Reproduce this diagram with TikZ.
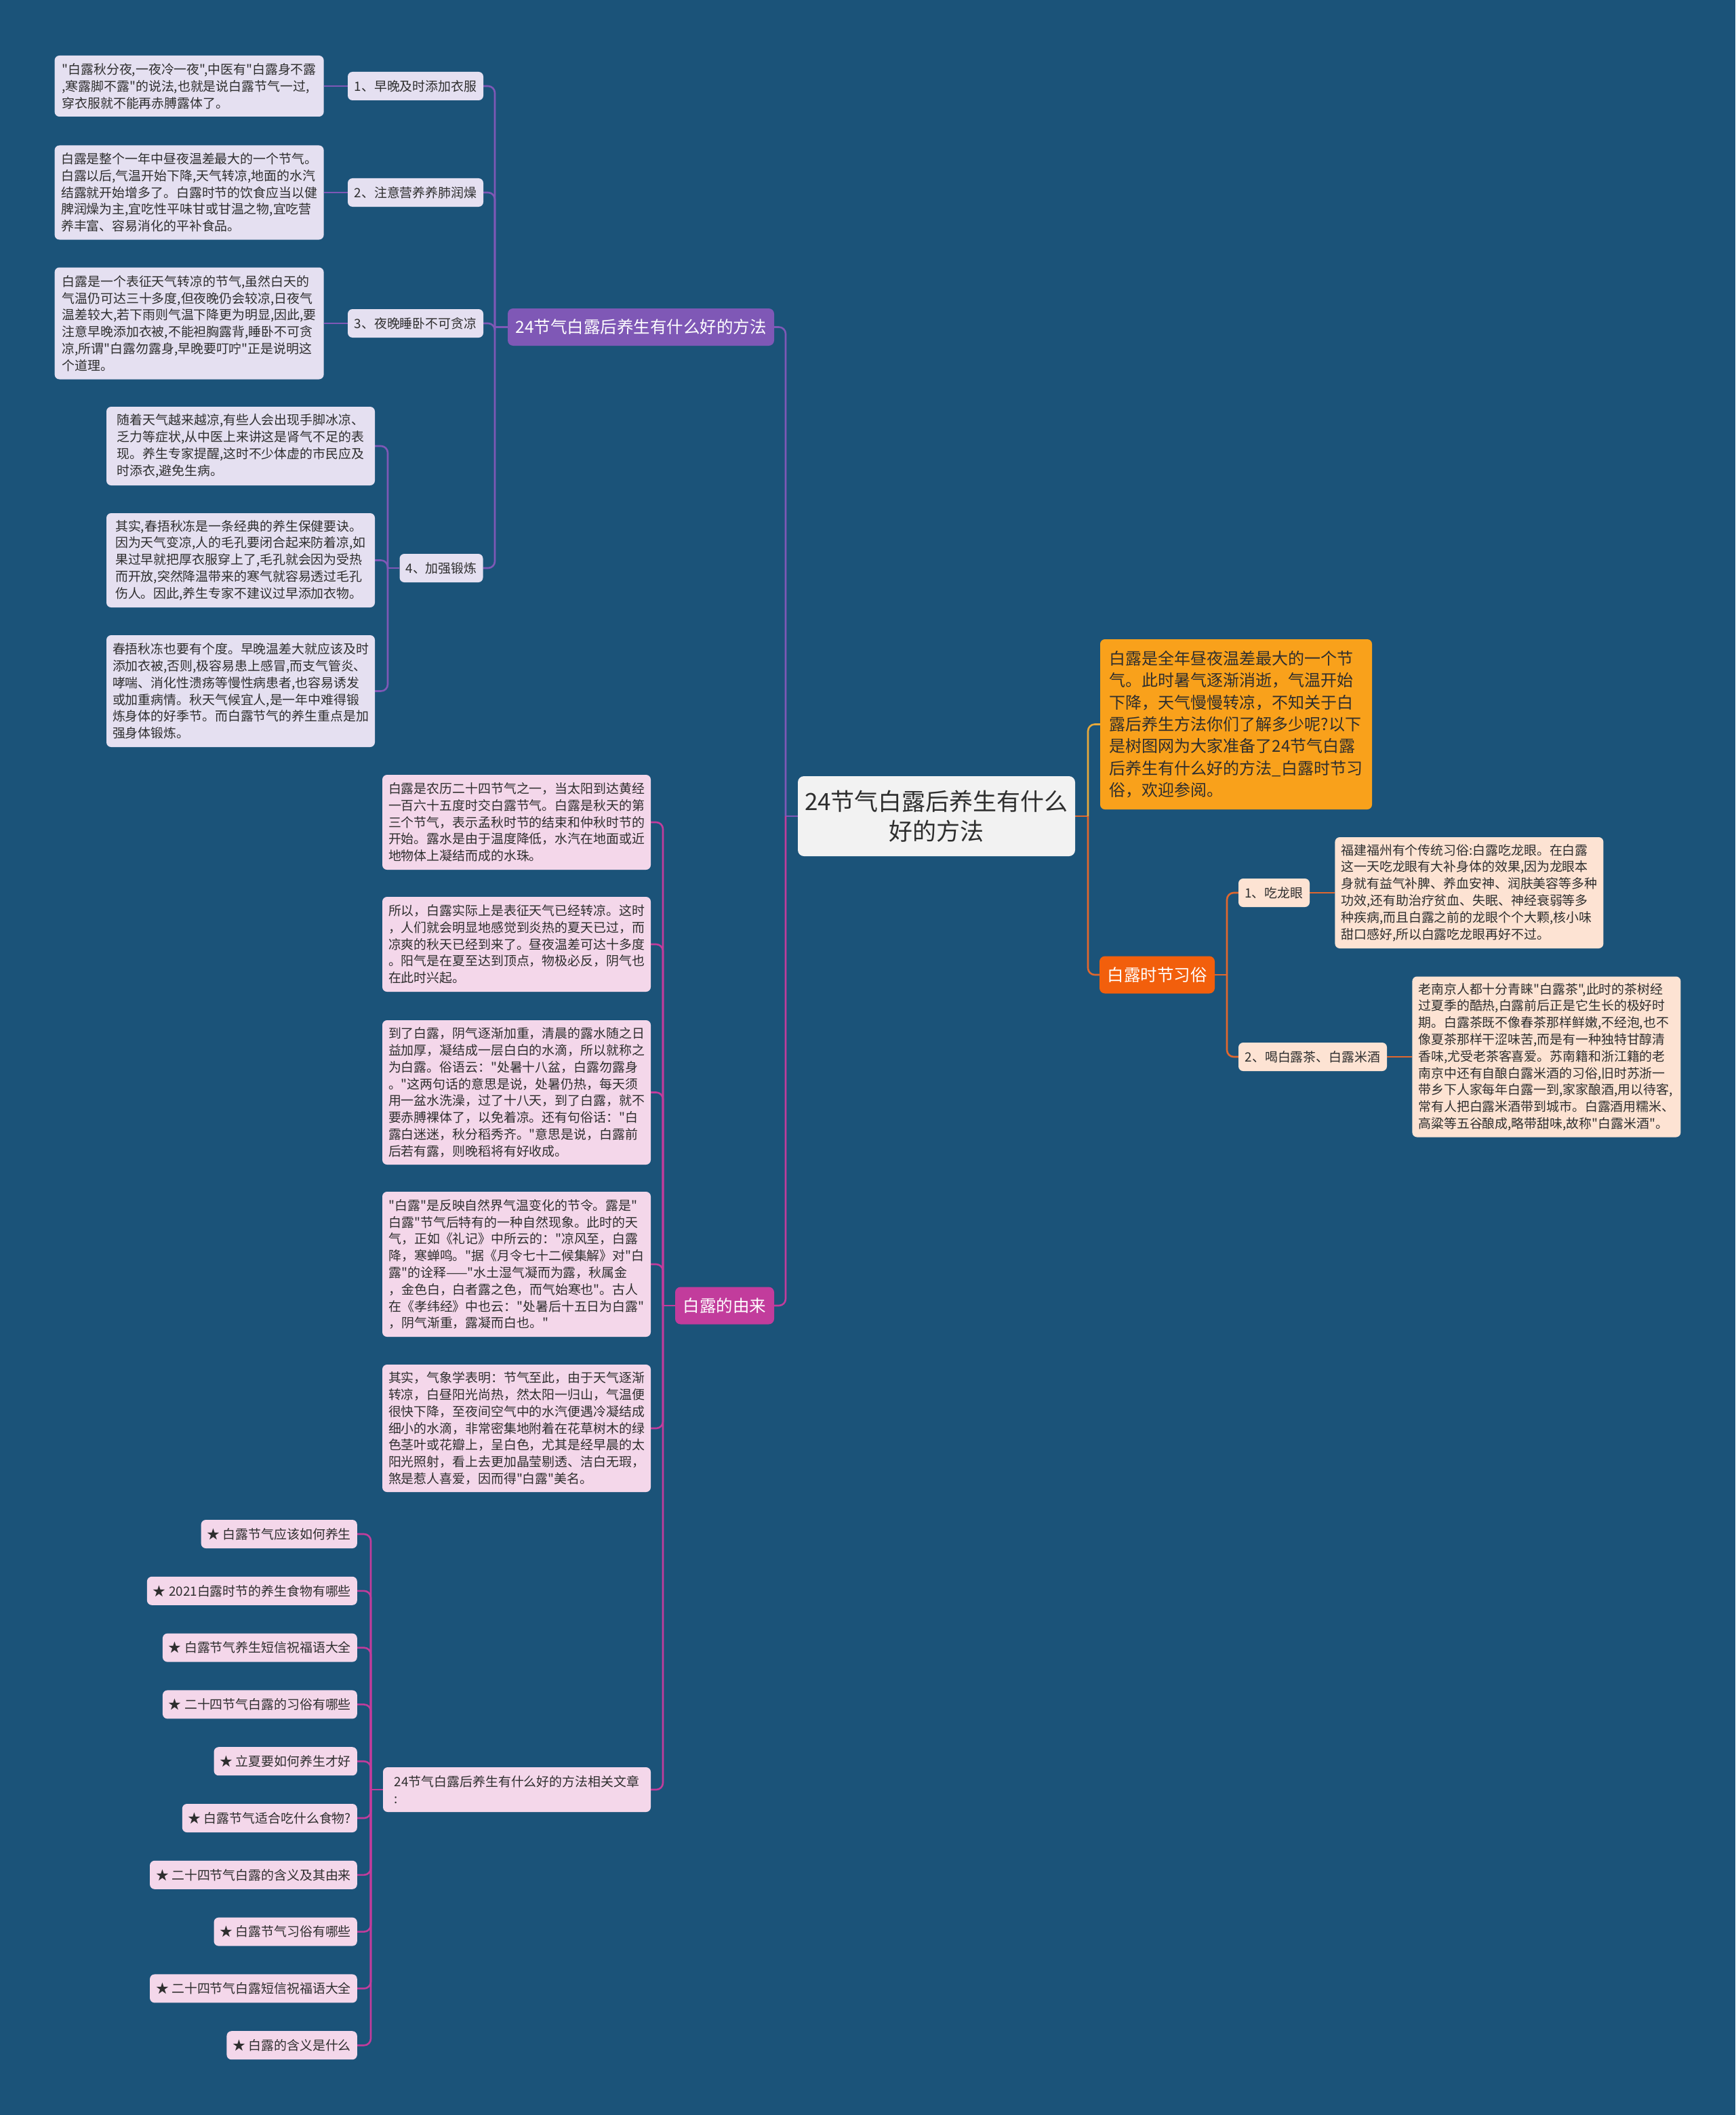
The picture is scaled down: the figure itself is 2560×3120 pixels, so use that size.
\documentclass[tikz,border=0pt]{standalone}
\usepackage{fontspec}
\setmainfont{Noto Sans CJK SC}[Ligatures=TeXOff]
\usetikzlibrary{positioning, backgrounds}
\definecolor{cbg}{HTML}{1B5379}
\definecolor{ctopic}{HTML}{F2F2F2}
\definecolor{cdark}{HTML}{2E2E2E}
\definecolor{cpurple}{HTML}{7F58B6}
\definecolor{clav}{HTML}{E5E0F1}
\definecolor{cmagenta}{HTML}{C23C9C}
\definecolor{cpink}{HTML}{F4D7EA}
\definecolor{camber}{HTML}{F9A11B}
\definecolor{cambline}{HTML}{E8A93B}
\definecolor{corange}{HTML}{F25F0C}
\definecolor{coline}{HTML}{E0672E}
\definecolor{cpeach}{HTML}{FDE3D3}
\tikzset{
  topic/.style={fill=ctopic, text=cdark, rounded corners=9pt, align=center, font=\fontsize{35}{44}\selectfont, minimum width=409pt, minimum height=118pt},
  branch/.style={fill=#1, text=white, rounded corners=8pt, font=\fontsize{24.5}{30}\selectfont, minimum height=55pt, inner xsep=11pt},
  leaf/.style={fill=#1, text=cdark, rounded corners=7pt, align=left, font=\fontsize{18.9}{24.8}\selectfont, inner xsep=9pt, inner ysep=8pt},
  tag/.style={leaf=#1, minimum height=42pt},
  intro/.style={fill=camber, text=cdark, rounded corners=7pt, align=left, font=\fontsize{24}{32.3}\selectfont, minimum width=401pt, minimum height=251pt},
  link/.style={draw=#1, line width=2.6pt, rounded corners=10pt},
}

\begin{document}
\begin{tikzpicture}[x=1pt, y=-1pt]
  \useasboundingbox (0,0) rectangle (2560,3120);
  % centre and main branches
  \node[topic] (root) at (1381.5,1204) {24节气白露后养生有什么\\好的方法};
  \node[branch=cpurple, minimum width=393pt] (b1) at (945.5,482.5) {24节气白露后养生有什么好的方法};
  \node[branch=cmagenta, minimum width=146pt] (b2) at (1069,1926) {白露的由来};
  \node[intro] (intro) at (1823.5,1068.5) {白露是全年昼夜温差最大的一个节\\气。此时暑气逐渐消逝，气温开始\\下降，天气慢慢转凉，不知关于白\\露后养生方法你们了解多少呢?以下\\是树图网为大家准备了24节气白露\\后养生有什么好的方法\_白露时节习\\俗，欢迎参阅。};
  \node[branch=corange, minimum width=170pt] (b3) at (1707,1438) {白露时节习俗};
  \coordinate (jl) at (1159,1204);
  \coordinate (jr) at (1605,1204);

  % purple branch: four methods
  \node[tag=clav, minimum width=200pt] (p1) at (613,127) {1、早晚及时添加衣服};
  \node[tag=clav, minimum width=200pt] (p2) at (613,284) {2、注意营养养肺润燥};
  \node[tag=clav, minimum width=200pt] (p3) at (613,477) {3、夜晚睡卧不可贪凉};
  \node[tag=clav, minimum width=122pt] (p4) at (651,838) {4、加强锻炼};
  \coordinate (jp) at (730,482.5);
  \coordinate (jp4) at (572,838);
  \node[leaf=clav, minimum width=397pt, minimum height=90pt, left=35pt of p1] (p1t) {"白露秋分夜,一夜冷一夜",中医有"白露身不露\\,寒露脚不露"的说法,也就是说白露节气一过,\\穿衣服就不能再赤膊露体了。};
  \node[leaf=clav, minimum width=397pt, minimum height=139pt, left=35pt of p2] (p2t) {白露是整个一年中昼夜温差最大的一个节气。\\白露以后,气温开始下降,天气转凉,地面的水汽\\结露就开始增多了。白露时节的饮食应当以健\\脾润燥为主,宜吃性平味甘或甘温之物,宜吃营\\养丰富、容易消化的平补食品。};
  \node[leaf=clav, minimum width=397pt, minimum height=165pt, left=35pt of p3] (p3t) {白露是一个表征天气转凉的节气,虽然白天的\\气温仍可达三十多度,但夜晚仍会较凉,日夜气\\温差较大,若下雨则气温下降更为明显,因此,要\\注意早晚添加衣被,不能袒胸露背,睡卧不可贪\\凉,所谓"白露勿露身,早晚要叮咛"正是说明这\\个道理。};
  \node[leaf=clav, minimum width=396pt, minimum height=116pt] (q1) at (355,658) {随着天气越来越凉,有些人会出现手脚冰凉、\\乏力等症状,从中医上来讲这是肾气不足的表\\现。养生专家提醒,这时不少体虚的市民应及\\时添衣,避免生病。};
  \node[leaf=clav, minimum width=396pt, minimum height=139pt] (q2) at (355,826.5) {其实,春捂秋冻是一条经典的养生保健要诀。\\因为天气变凉,人的毛孔要闭合起来防着凉,如\\果过早就把厚衣服穿上了,毛孔就会因为受热\\而开放,突然降温带来的寒气就容易透过毛孔\\伤人。因此,养生专家不建议过早添加衣物。};
  \node[leaf=clav, minimum width=396pt, minimum height=165pt] (q3) at (355,1019.5) {春捂秋冻也要有个度。早晚温差大就应该及时\\添加衣被,否则,极容易患上感冒,而支气管炎、\\哮喘、消化性溃疡等慢性病患者,也容易诱发\\或加重病情。秋天气候宜人,是一年中难得锻\\炼身体的好季节。而白露节气的养生重点是加\\强身体锻炼。};

  % magenta branch: origin of the name
  \node[leaf=cpink, minimum width=396pt, minimum height=140pt] (m1) at (762,1213) {白露是农历二十四节气之一，当太阳到达黄经\\一百六十五度时交白露节气。白露是秋天的第\\三个节气，表示孟秋时节的结束和仲秋时节的\\开始。露水是由于温度降低，水汽在地面或近\\地物体上凝结而成的水珠。};
  \node[leaf=cpink, minimum width=396pt, minimum height=140pt] (m2) at (762,1393) {所以，白露实际上是表征天气已经转凉。这时\\，人们就会明显地感觉到炎热的夏天已过，而\\凉爽的秋天已经到来了。昼夜温差可达十多度\\。阳气是在夏至达到顶点，物极必反，阴气也\\在此时兴起。};
  \node[leaf=cpink, minimum width=396pt, minimum height=213pt] (m3) at (762,1611.5) {到了白露，阴气逐渐加重，清晨的露水随之日\\益加厚，凝结成一层白白的水滴，所以就称之\\为白露。俗语云："处暑十八盆，白露勿露身\\。"这两句话的意思是说，处暑仍热，每天须\\用一盆水洗澡，过了十八天，到了白露，就不\\要赤膊裸体了，以免着凉。还有句俗话："白\\露白迷迷，秋分稻秀齐。"意思是说，白露前\\后若有露，则晚稻将有好收成。};
  \node[leaf=cpink, minimum width=396pt, minimum height=214pt] (m4) at (762,1865) {"白露"是反映自然界气温变化的节令。露是"\\白露"节气后特有的一种自然现象。此时的天\\气，正如《礼记》中所云的："凉风至，白露\\降，寒蝉鸣。"据《月令七十二候集解》对"白\\露"的诠释——"水土湿气凝而为露，秋属金\\，金色白，白者露之色，而气始寒也"。古人\\在《孝纬经》中也云："处暑后十五日为白露"\\，阴气渐重，露凝而白也。"};
  \node[leaf=cpink, minimum width=396pt, minimum height=188pt] (m5) at (762,2107) {其实，气象学表明：节气至此，由于天气逐渐\\转凉，白昼阳光尚热，然太阳一归山，气温便\\很快下降，至夜间空气中的水汽便遇冷凝结成\\细小的水滴，非常密集地附着在花草树木的绿\\色茎叶或花瓣上，呈白色，尤其是经早晨的太\\阳光照射，看上去更加晶莹剔透、洁白无瑕，\\煞是惹人喜爱，因而得"白露"美名。};
  \node[leaf=cpink, minimum width=395pt, minimum height=66pt] (rel) at (762.5,2640) {24节气白露后养生有什么好的方法相关文章\\:};
  \coordinate (jm) at (978,1926);
  \coordinate (jrel) at (547,2640);
  % related articles
  \foreach \t [count=\k] in {白露节气应该如何养生, 2021白露时节的养生食物有哪些, 白露节气养生短信祝福语大全, 二十四节气白露的习俗有哪些, 立夏要如何养生才好, 白露节气适合吃什么食物?, 二十四节气白露的含义及其由来, 白露节气习俗有哪些, 二十四节气白露短信祝福语大全, 白露的含义是什么}
    \node[tag=cpink, anchor=east] (i\k) at (527,{2179.2+83.8*\k}) {★ \t};

  % orange branch: customs
  \node[tag=cpeach, minimum width=105pt] (o1) at (1879.5,1317) {1、吃龙眼};
  \node[tag=cpeach, minimum width=219pt] (o2) at (1936.5,1559) {2、喝白露茶、白露米酒};
  \coordinate (jo) at (1810,1438);
  \node[leaf=cpeach, minimum width=395pt, minimum height=164pt, right=37pt of o1] (o1t) {福建福州有个传统习俗:白露吃龙眼。在白露\\这一天吃龙眼有大补身体的效果,因为龙眼本\\身就有益气补脾、养血安神、润肤美容等多种\\功效,还有助治疗贫血、失眠、神经衰弱等多\\种疾病,而且白露之前的龙眼个个大颗,核小味\\甜口感好,所以白露吃龙眼再好不过。};
  \node[leaf=cpeach, minimum width=395pt, minimum height=237pt, right=37pt of o2] (o2t) {老南京人都十分青睐"白露茶",此时的茶树经\\过夏季的酷热,白露前后正是它生长的极好时\\期。白露茶既不像春茶那样鲜嫩,不经泡,也不\\像夏茶那样干涩味苦,而是有一种独特甘醇清\\香味,尤受老茶客喜爱。苏南籍和浙江籍的老\\南京中还有自酿白露米酒的习俗,旧时苏浙一\\带乡下人家每年白露一到,家家酿酒,用以待客,\\常有人把白露米酒带到城市。白露酒用糯米、\\高粱等五谷酿成,略带甜味,故称"白露米酒"。};

  \begin{scope}[on background layer]
  \fill[cbg] (0,0) rectangle (2560,3120);
  % centre to branches
  \draw[link=cpurple] (root.west) -- (jl);
  \draw[link=cpurple] (jl) |- (b1.east);
  \draw[link=cmagenta] (jl) |- (b2.east);
  \draw[link=coline] (root.east) -- (jr);
  \draw[link=cambline] (jr) |- (intro.west);
  \draw[link=coline] (jr) |- (b3.west);
  % purple
  \draw[link=cpurple] (b1.west) -- (jp);
  \foreach \k in {1,...,4} \draw[link=cpurple] (jp) |- (p\k.east);
  \foreach \k in {1,2,3} \draw[link=cpurple] (p\k.west) -- (p\k t.east);
  \draw[link=cpurple] (p4.west) -- (jp4);
  \foreach \k in {1,2,3} \draw[link=cpurple] (jp4) |- (q\k.east);
  % magenta
  \draw[link=cmagenta] (b2.west) -- (jm);
  \foreach \n in {m1,m2,m3,m4,m5,rel} \draw[link=cmagenta] (jm) |- (\n.east);
  \draw[link=cmagenta] (rel.west) -- (jrel);
  \foreach \k in {1,...,10} \draw[link=cmagenta] (jrel) |- (i\k.east);
  % orange
  \draw[link=coline] (b3.east) -- (jo);
  \foreach \k in {1,2} \draw[link=coline] (jo) |- (o\k.west);
  \foreach \k in {1,2} \draw[link=coline] (o\k.east) -- (o\k t.west);
  \end{scope}
\end{tikzpicture}
\end{document}
